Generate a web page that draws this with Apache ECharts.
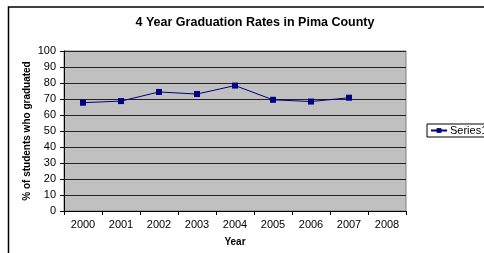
<!DOCTYPE html>
<html>
<head>
<meta charset="utf-8">
<script src="https://cdn.jsdelivr.net/npm/echarts@6/dist/echarts.min.js"></script>
<style>
html, body { margin: 0; padding: 0; background: #fff; }
#main { width: 484px; height: 253px; }
</style>
</head>
<body>
<div id="main"></div>
<script>
// data
var years = ['2000', '2001', '2002', '2003', '2004', '2005', '2006', '2007', '2008'];
var rates = [67.7, 68.7, 74.4, 73.1, 78.4, 69.5, 68.4, 70.8, null];
var seriesName = 'Series1';

var myChart = echarts.init(document.getElementById('main'));
var option = {
    backgroundColor: '#fff',
    animation: false,
    title: {
        text: '4 Year Graduation Rates in Pima County',
        left: 250,
        textAlign: 'center',
        top: 11,
        textStyle: { fontFamily: 'Arial, Liberation Sans', fontSize: 12.5, fontWeight: 'bold', color: '#000' }
    },
    graphic: [{
        type: 'rect',
        shape: { x: 8.5, y: 7, width: 600, height: 400 },
        style: { fill: 'none', stroke: '#000', lineWidth: 1.5 },
        z: 100
    }],
    legend: {
        data: [seriesName],
        left: 427,
        top: 124,
        padding: [1, 3, 1, 3],
        borderColor: '#000',
        borderWidth: 1,
        itemWidth: 16,
        itemHeight: 6,
        textStyle: { fontFamily: 'Arial, Liberation Sans', fontSize: 11, color: '#000', padding: [0, 0, 0, -2] }
    },
    grid: {
        left: 64, right: 78, top: 51, bottom: 42,
        show: true,
        backgroundColor: '#c0c0c0',
        borderColor: '#808080',
        borderWidth: 1
    },
    xAxis: {
        type: 'category',
        data: years,
        boundaryGap: true,
        name: 'Year',
        nameLocation: 'middle',
        nameGap: 26,
        nameTextStyle: { fontFamily: 'Arial, Liberation Sans', fontSize: 10, fontWeight: 'bold', color: '#000' },
        axisLine: { lineStyle: { color: '#000', width: 1 } },
        axisTick: { show: true, length: 4, lineStyle: { color: '#000' } },
        axisLabel: { fontFamily: 'Arial, Liberation Sans', fontSize: 11, color: '#000', margin: 8 }
    },
    yAxis: {
        type: 'value',
        min: 0,
        max: 100,
        interval: 10,
        name: '% of students who graduated',
        nameLocation: 'middle',
        nameGap: 32,
        nameMoveOverlap: false,
        nameTextStyle: { fontFamily: 'Arial, Liberation Sans', fontSize: 10, fontWeight: 'bold', color: '#000' },
        axisLine: { show: true, lineStyle: { color: '#000', width: 1 } },
        axisTick: { show: true, length: 4, lineStyle: { color: '#000' } },
        axisLabel: { fontFamily: 'Arial, Liberation Sans', fontSize: 11, color: '#000', margin: 8 },
        splitLine: { show: true, lineStyle: { color: '#222', width: 1 } }
    },
    series: [{
        name: seriesName,
        type: 'line',
        data: rates,
        symbol: 'rect',
        symbolSize: 6,
        color: '#000080',
        lineStyle: { color: '#000080', width: 1 },
        itemStyle: { color: '#000080' }
    }]
};
myChart.setOption(option);
</script>
</body>
</html>
